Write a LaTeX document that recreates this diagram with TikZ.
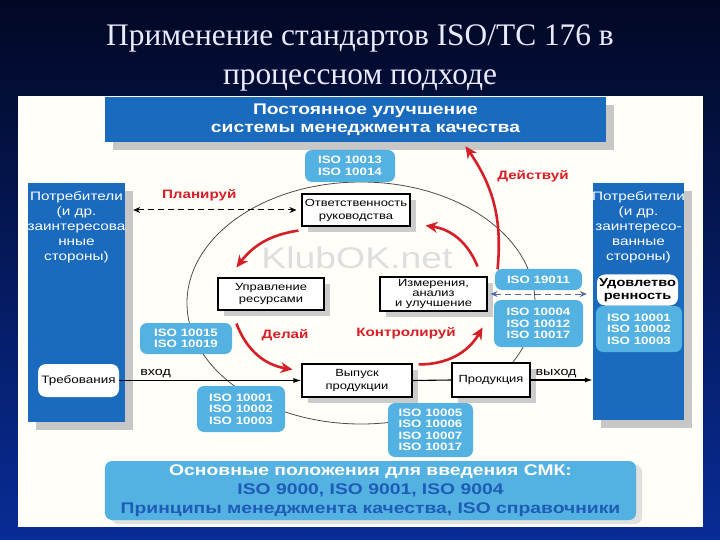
\documentclass[tikz,border=0pt]{standalone}
\usepackage{fontspec}
\setmainfont{Liberation Sans}[FakeStretch=1.25]
\newfontfamily\titlefont{Liberation Serif}
\usetikzlibrary{arrows.meta, shadows, positioning}
\definecolor{navytop}{RGB}{2,8,36}
\definecolor{navybot}{RGB}{8,44,150}
\definecolor{paper}{RGB}{255,254,248}
\definecolor{custblue}{RGB}{26,106,190}
\definecolor{isoblue}{RGB}{84,178,226}
\definecolor{actred}{RGB}{214,30,38}
\definecolor{linkblue}{RGB}{84,104,168}
\definecolor{basetext}{RGB}{30,92,182}

\begin{document}
\begin{tikzpicture}[x=1bp, y=-1bp,
  custbox/.style={fill=custblue, inner sep=0pt,
    drop shadow={shadow xshift=8bp, shadow yshift=-8bp, fill=black!22, opacity=1}},
  custtext/.style={anchor=north, label distance=-5bp, text=white, align=center,
    font=\fontsize{12.3}{15}\selectfont},
  stepbox/.style={draw, line width=1.1bp, fill=white, align=center, inner sep=1bp,
    font=\fontsize{10.4}{13}\selectfont,
    drop shadow={shadow xshift=6bp, shadow yshift=-6bp, fill=black!20, opacity=1}},
  isobox/.style={rounded corners=7bp, fill=isoblue, text=white, align=center, inner sep=1bp,
    font=\bfseries\fontsize{10.7}{11.5}\selectfont},
  whitebox/.style={rounded corners=8bp, fill=white, align=center, inner sep=1bp},
  actlabel/.style={text=actred, font=\bfseries\fontsize{12.2}{13}\selectfont},
  cycarrow/.style={draw=actred, line width=2.6bp, -{Stealth[length=12bp, width=11bp]}},
  flowarrow/.style={line width=1.2bp, -{Latex[length=8bp, width=5bp]}},
  planarrow/.style={line width=1bp, dash pattern=on 6bp off 4bp,
    {Stealth[length=7bp, width=6bp]}-{Stealth[length=7bp, width=6bp]}},
  flowlabel/.style={font=\fontsize{11.5}{12}\selectfont, inner sep=2bp}]
\useasboundingbox (0,0) rectangle (720,540);
\shade[top color=navytop, bottom color=navybot] (0,0) rectangle (720,540);
\fill[paper] (18,96) rectangle (703,527);

\node[text=white!92!blue, align=center, font=\titlefont\fontsize{31.5}{40}\selectfont] (title) at (360,58)
  {Применение стандартов ISO/TC 176 в\\процессном подходе};

\draw[black!70, line width=0.8bp] (361,303) ellipse [x radius=174, y radius=121];
\node[text=black!13, font=\fontsize{30}{30}\selectfont] (wmark) at (357,258) {KlubOK.net};

\node[custbox, minimum width=501bp, minimum height=45bp,
  label={[xshift=10bp, text=white, align=center, font=\bfseries\fontsize{15.5}{18}\selectfont]center:Постоянное улучшение\\системы менеджмента качества}] (impr) at (355.5,119.5) {};

\node[custbox, minimum width=97bp, minimum height=239bp,
  label={[custtext]north:Потребители\\(и др.\\заинтересова\\нные\\стороны)}] (lcust) at (76.5,302.5) {};
\node[custbox, minimum width=91bp, minimum height=237bp,
  label={[custtext]north:Потребители\\(и др.\\заинтересо-\\ванные\\стороны)}] (rcust) at (638.5,301.5) {};

\node[whitebox, minimum width=81bp, minimum height=33bp, font=\fontsize{10.8}{12}\selectfont] (req) at (78.5,380.5) {Требования};
\node[isobox, minimum width=86bp, minimum height=46bp] (isoR) at (639,329) {ISO 10001\\ISO 10002\\ISO 10003};
\node[whitebox, minimum width=81bp, minimum height=31bp, font=\bfseries\fontsize{11.7}{13}\selectfont] (sat) at (637.5,290) {Удовлетво\\ренность};

\node[isobox, minimum width=90bp, minimum height=32bp] (iso1314) at (350,166) {ISO 10013\\ISO 10014};
\node[isobox, minimum width=92bp, minimum height=31bp] (iso1519) at (186,338.5) {ISO 10015\\ISO 10019};
\node[isobox, minimum width=88bp, minimum height=46bp] (isoL) at (241,409) {ISO 10001\\ISO 10002\\ISO 10003};
\node[isobox, minimum width=87bp, minimum height=21bp] (iso19011) at (538.5,279.5) {ISO 19011};
\node[isobox, minimum width=89bp, minimum height=47bp] (iso4) at (538.5,323.5) {ISO 10004\\ISO 10012\\ISO 10017};
\node[isobox, minimum width=85bp, minimum height=54bp] (iso5) at (430.5,430) {ISO 10005\\ISO 10006\\ISO 10007\\ISO 10017};

\node[stepbox, minimum width=108bp, minimum height=32bp] (resp) at (356,210) {Ответственность\\руководства};
\node[stepbox, minimum width=106bp, minimum height=32bp] (res) at (271,294) {Управление\\ресурсами};
\node[stepbox, minimum width=107bp, minimum height=34bp, font=\fontsize{10.4}{10}\selectfont] (meas) at (433.5,294) {Измерения,\\анализ\\и улучшение};
\node[stepbox, minimum width=110bp, minimum height=33bp] (rel) at (357,380.5) {Выпуск\\продукции};
\node[stepbox, minimum width=78bp, minimum height=34bp] (prod) at (491,380) {Продукция};

\node[isobox, minimum width=531bp, minimum height=59bp, font=\bfseries\fontsize{15.5}{19}\selectfont,
  drop shadow={shadow xshift=6bp, shadow yshift=-4bp, fill=black!12, opacity=1}] (base) at (370.5,490.5)
  {Основные положения для введения СМК:\\\textcolor{basetext}{ISO 9000, ISO 9001, ISO 9004}\\\textcolor{basetext}{Принципы менеджмента качества, ISO справочники}};

\draw[planarrow, shorten <=8bp, shorten >=5bp] (resp.west -| lcust.east) -- node[actlabel, pos=.42, above=5bp] (plan) {Планируй} (resp.west);
\draw[planarrow, draw=linkblue, shorten <=3bp, shorten >=6bp] (meas.east) -- (meas.east -| rcust.west);

\draw[flowarrow] (req.east) -- node[flowlabel, pos=.2, above] (inlbl) {вход} (rel.west);
\draw[line width=1.1bp] (rel.east) -- (prod.west);
\draw[flowarrow] (prod.east) -- node[flowlabel, pos=.41, above] (outlbl) {выход} (prod.east -| rcust.west);

\draw[cycarrow] ([shift={(-3,4)}]resp.south west) to[bend right=22] ([shift={(19,-10)}]res.north west);
\draw[cycarrow] ([shift={(19,13)}]res.south west) to[bend right=30] ([shift={(-9,6)}]rel.north west);
\draw[cycarrow] ([shift={(6,1)}]rel.north east) to[bend right=30] ([shift={(-5,16)}]meas.south east);
\draw[cycarrow] ([shift={(-10,-10)}]meas.north east) to[bend right=30] ([shift={(15,-1)}]resp.south east);
\draw[cycarrow] ([shift={(10,-7)}]meas.north east) to[bend right=20] ([shift={(110,4)}]impr.south);

\node[actlabel] (act) at (533,176) {Действуй};
\node[actlabel] (do) at (285,335) {Делай};
\node[actlabel] (check) at (406,333) {Контролируй};
\end{tikzpicture}
\end{document}
